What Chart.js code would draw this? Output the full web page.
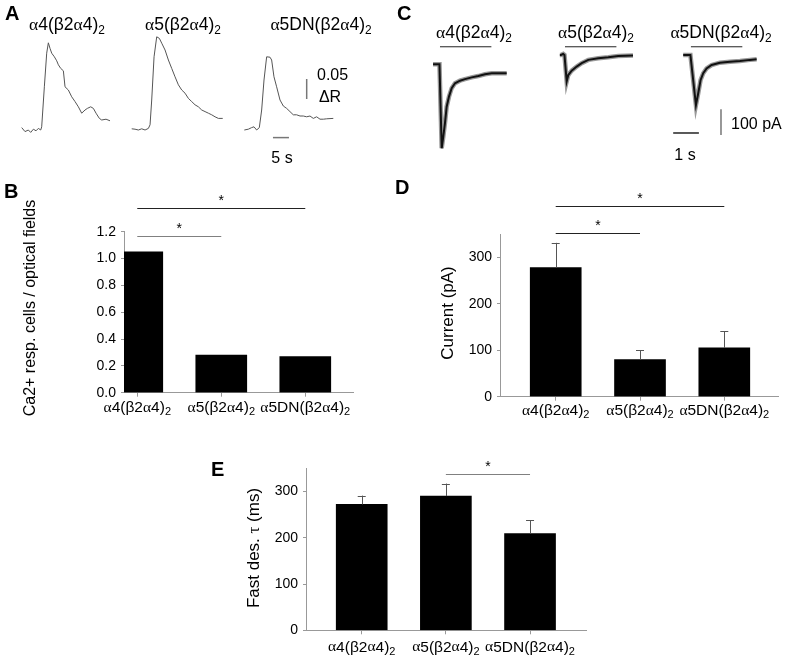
<!DOCTYPE html>
<html>
<head>
<meta charset="utf-8">
<script src="https://cdn.jsdelivr.net/npm/chart.js@4.4.0/dist/chart.umd.min.js"></script>
<style>
  body { margin: 0; background: #fff; width: 787px; height: 666px; position: relative; overflow: hidden;
         font-family: "Liberation Sans", Arial, sans-serif; color: #000; }
  canvas { position: absolute; }
  .t { position: absolute; white-space: nowrap; line-height: 1; transform: translate(-50%, -50%); }
  .tl { position: absolute; white-space: nowrap; line-height: 1; transform: translate(0, -50%); }
  .g { font-family: "Liberation Serif", serif; }
  sub { font-size: 0.68em; vertical-align: -0.3em; line-height: 0; }
  .L { position: absolute; font-weight: bold; font-size: 20px; line-height: 1; }
  .rot { transform: translate(-50%, -50%) rotate(-90deg); }
</style>
</head>
<body>
<canvas id="cA" width="400" height="170" style="left:0;top:0"></canvas>
<canvas id="cC" width="387" height="170" style="left:400px;top:0"></canvas>
<canvas id="cB" width="390" height="275" style="left:0;top:170px"></canvas>
<canvas id="cD" width="397" height="275" style="left:390px;top:170px"></canvas>
<canvas id="cE" width="400" height="216" style="left:200px;top:450px"></canvas>
<div id="txt"></div>
<script>
// groups and bar values
const groups = ['α4(β2α4)₂', 'α5(β2α4)₂', 'α5DN(β2α4)₂'];
const ca2Resp = [1.05, 0.28, 0.27];
const currentMean = [278, 80, 105];
const currentSem = [53, 20, 36];
const tauMean = [272, 290, 209];
const tauSem = [19, 27, 29];
const ticksB = [0, 0.2, 0.4, 0.6, 0.8, 1.0, 1.2];
const ticksDE = [0, 100, 200, 300];

// significance brackets: [from group, to group, level in axis units]
const sigB = [[1, 3, 1.374], [1, 2, 1.17]];
const sigD = [[1, 3, 411], [1, 2, 352]];
const sigE = [[2, 3, 338]];

// A: Ca2+ imaging traces, time (s) from trace start, ratio change
const trA1t = [0, 1.04, 2.08, 2.81, 3.65, 4.48, 5.21, 5.94, 6.25, 7.08, 7.81, 8.33, 8.85, 9.38, 10.21, 10.94, 11.46, 12.19, 13.02, 13.54, 14.58, 15.63, 16.67, 17.71, 18.75, 19.79, 20.52, 21.56, 22.4, 23.23, 24.27, 25.0, 26.35, 27.6];
const trA1 = [0.006, -0.004, 0, -0.006, 0.002, -0.002, 0.004, 0, 0.008, 0.108, 0.192, 0.218, 0.204, 0.192, 0.183, 0.173, 0.163, 0.154, 0.148, 0.108, 0.1, 0.083, 0.071, 0.058, 0.042, 0.05, 0.054, 0.058, 0.054, 0.042, 0.029, 0.025, 0.027, 0.023];
const trA2t = [0, 1.04, 2.08, 3.13, 4.17, 5.21, 5.73, 6.25, 6.98, 7.81, 8.65, 9.38, 10.42, 11.46, 12.5, 13.54, 14.58, 15.63, 16.67, 17.71, 18.75, 19.79, 20.83, 21.88, 22.92, 23.96, 25.0, 26.04, 27.08, 28.44];
const trA2 = [0.003, 0.002, 0, 0.003, 0, 0.004, 0.013, 0.075, 0.183, 0.233, 0.229, 0.217, 0.2, 0.175, 0.154, 0.133, 0.113, 0.1, 0.092, 0.079, 0.071, 0.063, 0.058, 0.05, 0.046, 0.042, 0.038, 0.033, 0.029, 0.029];
const trA3t = [0, 1.25, 2.29, 3.02, 3.85, 4.69, 5.42, 6.15, 6.98, 8.02, 8.54, 9.27, 10.1, 11.15, 12.19, 13.23, 14.27, 15.31, 16.35, 17.4, 18.44, 19.48, 20.52, 21.56, 22.6, 23.65, 24.69, 25.73, 27.81];
const trA3 = [0, 0.002, 0.006, 0.008, 0, 0.006, 0.05, 0.125, 0.183, 0.182, 0.175, 0.133, 0.108, 0.075, 0.06, 0.054, 0.046, 0.038, 0.038, 0.035, 0.035, 0.033, 0.035, 0.029, 0.033, 0.027, 0.027, 0.028, 0.029];
const startA = [6.78, 41.16, 76.35];

// C: whole-cell currents, time (s) from agonist onset, current (pA)
const trC1t = [-0.27, -0.02, 0.066, 0.128, 0.195, 0.26, 0.35, 0.455, 0.584, 0.778, 0.973, 1.233, 1.49, 1.751, 2.012, 2.257, 2.595];
const trC1 = [0, 0, -327, -282, -228, -165, -126, -93, -74, -64, -58, -51, -46, -39, -35, -35, -35];
const trC2t = [-0.2, -0.16, -0.07, -0.02, 0.066, 0.128, 0.26, 0.455, 0.65, 0.907, 1.296, 1.685, 2.074, 2.646];
const trC2 = [0, 0, 4, 0, -103, -78, -61, -45, -32, -19, -13, -9, -4, -2];
const trC3t = [-0.3, -0.02, 0.195, 0.284, 0.377, 0.479, 0.61, 0.805, 1.128, 1.518, 1.907, 2.296, 2.557];
const trC3 = [0, 0, -195, -149, -97, -71, -52, -39, -30, -26, -23, -19, -17];
const onsetC = [1.556, 6.42, 11.32];
const baseC = [-36, 0, 0];
const stimDur = 2, stimLevel = 32;

function pts(t, v, t0, off) { return t.map((tt, i) => ({ x: t0 + tt, y: v[i] + off })); }
function seg(x1, y1, x2, y2) { return [{ x: x1, y: y1 }, { x: x2, y: y2 }]; }

function drawRich(ctx, str, cx, cy, size) {
  const parts = [];
  for (const ch of str) {
    if (ch === 'α') parts.push({ t: ch, f: size + 'px "Liberation Serif"', dy: 0 });
    else if (ch === '₂') parts.push({ t: '2', f: Math.round(size * 0.68) + 'px "Liberation Sans"', dy: size * 0.3 });
    else parts.push({ t: ch, f: size + 'px "Liberation Sans"', dy: 0 });
  }
  let w = 0;
  parts.forEach(p => { ctx.font = p.f; p.w = ctx.measureText(p.t).width; w += p.w; });
  let x = cx - w / 2;
  ctx.textBaseline = 'middle';
  ctx.textAlign = 'left';
  ctx.fillStyle = '#000';
  parts.forEach(p => { ctx.font = p.f; ctx.fillText(p.t, x, cy + p.dy); x += p.w; });
}

const extras = {
  id: 'extras',
  afterDraw(chart, args, opts) {
    const { ctx } = chart;
    const x = chart.scales.x, y = chart.scales.y;
    ctx.save();
    if (opts.err) {
      const vals = chart.data.datasets[0].data;
      chart.getDatasetMeta(0).data.forEach((bar, i) => {
        const top = y.getPixelForValue(vals[i].y + opts.err[i]);
        ctx.strokeStyle = '#555';
        ctx.lineWidth = 1;
        ctx.beginPath();
        ctx.moveTo(Math.round(bar.x) + 0.5, bar.y);
        ctx.lineTo(Math.round(bar.x) + 0.5, top);
        ctx.moveTo(bar.x - 4, Math.round(top) + 0.5);
        ctx.lineTo(bar.x + 4, Math.round(top) + 0.5);
        ctx.stroke();
      });
    }
    (opts.sig || []).forEach(([a, b, h], k) => {
      const x1 = x.getPixelForValue(a), x2 = x.getPixelForValue(b);
      const yy = Math.round(y.getPixelForValue(h)) + 0.5;
      ctx.strokeStyle = opts.sigColors[k];
      ctx.lineWidth = 1;
      ctx.beginPath();
      ctx.moveTo(x1, yy);
      ctx.lineTo(x2, yy);
      ctx.stroke();
      ctx.fillStyle = '#000';
      ctx.font = '14px "Liberation Sans"';
      ctx.textAlign = 'center';
      ctx.textBaseline = 'alphabetic';
      ctx.fillText('*', (x1 + x2) / 2, yy - 4);
    });
    groups.forEach((g, i) => drawRich(ctx, g, x.getPixelForValue(i + 1), x.top + opts.labelGap, 15.5));
    ctx.restore();
  }
};

const axisGrid = { display: true, drawOnChartArea: false, drawTicks: true, color: '#999', offset: false };

function barChart(id, values, err, box, yTicks, yMax, dec, sig, sigColors) {
  return new Chart(document.getElementById(id), {
    type: 'bar',
    data: { datasets: [{ data: values.map((v, i) => ({ x: i + 1, y: v })), backgroundColor: '#000', barThickness: 51 }] },
    options: {
      responsive: false,
      animation: false,
      layout: { padding: { left: 0, top: box.top, right: box.right, bottom: 0 } },
      plugins: {
        legend: { display: false },
        tooltip: { enabled: false },
        extras: { err, sig, sigColors, labelGap: box.labelGap }
      },
      scales: {
        x: {
          type: 'linear', min: box.xMin, max: box.xMax, offset: false,
          afterBuildTicks: s => { s.ticks = groups.map((g, i) => ({ value: i + 1 })); },
          afterFit: s => { s.height = box.xH; },
          ticks: { display: false },
          grid: { ...axisGrid, tickLength: 4 },
          border: { color: '#999' }
        },
        y: {
          min: 0, max: yMax,
          afterBuildTicks: s => { s.ticks = yTicks.map(v => ({ value: v })); },
          afterFit: s => { s.width = box.left; },
          ticks: { padding: 5, color: '#000', font: { family: 'Liberation Sans', size: 14 }, callback: v => Number(v).toFixed(dec) },
          grid: { ...axisGrid, tickLength: 3 },
          border: { color: '#999' }
        }
      }
    },
    plugins: [extras]
  });
}

barChart('cB', ca2Resp, null,
  { left: 124, right: 37, top: 61.7, xH: 52.3, xMin: 0.842, xMax: 3.568, labelGap: 15 },
  ticksB, 1.2, 1, sigB, ['#222', '#808080']);
barChart('cD', currentMean, currentSem,
  { left: 110, right: 9, top: 64, xH: 48.3, xMin: 0.339, xMax: 3.637, labelGap: 14 },
  ticksDE, 350, 0, sigD, ['#222', '#222']);
barChart('cE', tauMean, tauSem,
  { left: 106, right: 14, top: 18.3, xH: 35.7, xMin: 0.338, xMax: 3.665, labelGap: 17 },
  ticksDE, 350, 0, sigE, ['#808080']);

function traceChart(id, datasets, xMax, yMin, yMax) {
  return new Chart(document.getElementById(id), {
    type: 'line',
    data: { datasets },
    options: {
      responsive: false,
      animation: false,
      layout: { padding: 0 },
      elements: { point: { radius: 0 }, line: { tension: 0 } },
      plugins: { legend: { display: false }, tooltip: { enabled: false } },
      scales: {
        x: { type: 'linear', display: false, min: 0, max: xMax },
        y: { type: 'linear', display: false, min: yMin, max: yMax }
      }
    }
  });
}

const trA = [[trA1t, trA1], [trA2t, trA2], [trA3t, trA3]];
traceChart('cA', [
  ...trA.map(([t, v], i) => ({ data: pts(t, v, startA[i], 0), borderColor: '#555', borderWidth: 1 })),
  { data: seg(95.84, 0.0775, 95.84, 0.1275), borderColor: '#777', borderWidth: 1.5 },
  { data: seg(85.3, -0.019, 90.3, -0.019), borderColor: '#777', borderWidth: 1.5 }
], 125, -0.1, 0.325);

// dataset 0 is drawn on top, so the dark core comes before the grey noise band
const trC = [[trC1t, trC1], [trC2t, trC2], [trC3t, trC3]];
traceChart('cC', [
  ...trC.map(([t, v], i) => ({ data: pts(t, v, onsetC[i], baseC[i]), borderColor: '#111', borderWidth: 2 })),
  ...trC.map(([t, v], i) => ({ data: pts(t, v, onsetC[i], baseC[i]), borderColor: '#999', borderWidth: 4.5 })),
  ...onsetC.map(t0 => ({ data: seg(t0, stimLevel, t0 + stimDur, stimLevel), borderColor: '#222', borderWidth: 1 })),
  { data: seg(12.49, -211, 12.49, -311), borderColor: '#777', borderWidth: 1.5 },
  { data: seg(10.63, -303.5, 11.63, -303.5), borderColor: '#222', borderWidth: 1.5 }
], 387 / 25.7, -447.5, 214);

// text
function rich(s) {
  return s.replace(/α/g, '<span class="g">α</span>').replace(/τ/g, '<span class="g">τ</span>').replace(/₂/g, '<sub>2</sub>');
}
const txt = [];
const titlesA = [[67, 25], [183, 25], [321, 25]];
const titlesC = [[474, 33], [596, 33], [721, 33]];
groups.forEach((g, i) => {
  txt.push(`<div class="t" style="left:${titlesA[i][0]}px;top:${titlesA[i][1]}px;font-size:17.5px">${rich(g)}</div>`);
  txt.push(`<div class="t" style="left:${titlesC[i][0]}px;top:${titlesC[i][1]}px;font-size:17.5px">${rich(g)}</div>`);
});
txt.push('<div class="tl" style="left:317px;top:75px;font-size:16px">0.05</div>');
txt.push('<div class="t" style="left:330px;top:97px;font-size:16px">ΔR</div>');
txt.push('<div class="t" style="left:282px;top:158px;font-size:16px">5 s</div>');
txt.push('<div class="tl" style="left:731px;top:124px;font-size:16px">100 pA</div>');
txt.push('<div class="t" style="left:685px;top:155px;font-size:16px">1 s</div>');
txt.push('<div class="t rot" style="left:30px;top:308px;font-size:16px">Ca2+ resp. cells / optical fields</div>');
txt.push('<div class="t rot" style="left:447px;top:313px;font-size:17px">Current (pA)</div>');
txt.push(`<div class="t rot" style="left:253px;top:548px;font-size:17px">${rich('Fast des. τ (ms)')}</div>`);
txt.push('<div class="L" style="left:5px;top:3px">A</div>');
txt.push('<div class="L" style="left:4px;top:181px">B</div>');
txt.push('<div class="L" style="left:397px;top:3px">C</div>');
txt.push('<div class="L" style="left:395px;top:177px">D</div>');
txt.push('<div class="L" style="left:211px;top:459px">E</div>');
document.getElementById('txt').innerHTML = txt.join('');
</script>
</body>
</html>
